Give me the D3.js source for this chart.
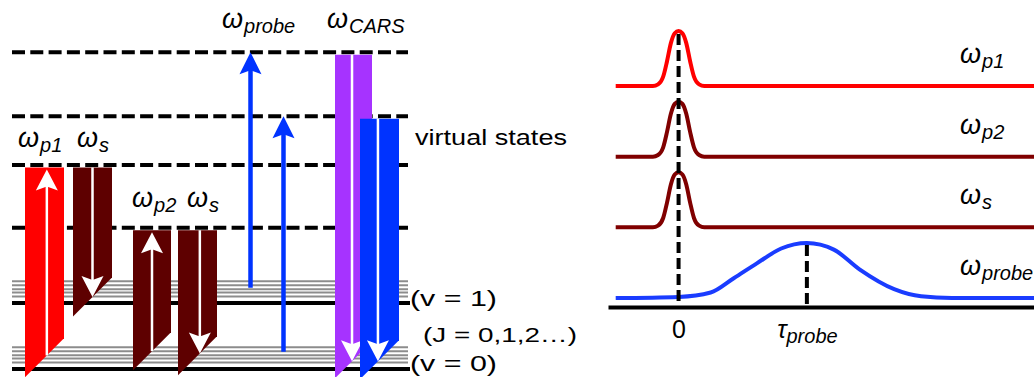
<!DOCTYPE html>
<html>
<head>
<meta charset="utf-8">
<script src="https://cdn.jsdelivr.net/npm/d3@7"></script>
<style>
body { margin: 0; background: #fff; }
text { font-family: "Liberation Sans", Arial, sans-serif; fill: #000; }
</style>
</head>
<body>
<div id="chart-area"></div>
<script>

let width = 1034,
	height = 377;

// ---- left panel: energy levels (v = 0 -> 0, v = 1 -> 1) ----
let vibLevels = [0, 1];
let vibLabels = ["(v = 0)", "(v = 1)"];
let rotOffsets = [0.10, 0.16, 0.21, 0.27, 0.33];   // J sublevels above each v
let virtualLevels = [2.14, 3.09, 3.83, 4.80];

// broad beams: id, upper level, lower end, direction
let beamIds = ["p1", "s1", "p2", "s2", "cars1", "cars2"];
let beamTop = [3.09, 3.09, 2.14, 2.14, 4.80, 3.83];
let beamEnd = [0.17, 1.09, 0.27, 0.20, 0.14, 0.14];
let beamDir = ["up", "down", "up", "down", "down", "down"];

// thin probe arrows
let probeIds = ["probe1", "probe2"];
let probeFrom = [1.23, 0.26];
let probeTo = [4.80, 3.83];

// ---- right panel: pulse timing ----
let pulseNames = ["p1", "p2", "s", "probe"];
let pumpT = [-0.49, -0.2, -0.16, -0.12, -0.09, -0.06, -0.03, 0, 0.03, 0.06, 0.09, 0.12, 0.16, 0.2, 2.77];
let pumpA = [0, 0, 0.03, 0.17, 0.45, 0.78, 0.96, 1, 0.96, 0.78, 0.45, 0.17, 0.03, 0, 0];
let probeT = [-0.49, 0, 0.25, 0.43, 0.61, 0.8, 1.0, 1.21, 1.41, 1.68, 1.89, 2.13, 2.77];
let probeA = [0, 0.02, 0.1, 0.36, 0.63, 0.9, 1, 0.88, 0.52, 0.16, 0.03, 0, 0];
let tickTimes = [0, 1];
let tickMain = ["0", "\u03c4"];
let tickSub = ["", "probe"];

let colors = {
	p1: "#ff0000", s1: "#5e0000", p2: "#5e0000", s2: "#5e0000",
	cars1: "#a633ff", cars2: "#0033ff", probe: "#0033ff"
};
let lineColors = {p1: "#ff0000", p2: "#800000", s: "#800000", probe: "#1a3cff"};

let svg = d3.select("#chart-area").append("svg")
	.attr("width", width).attr("height", height);

// omega label with subscript
function omega(g, x, y, sub, size, subSize, dy) {
	let t = g.append("text").attr("x", x).attr("y", y).style("font-style", "italic");
	t.append("tspan").style("font-size", size + "px").text("\u03c9");
	t.append("tspan").attr("dx", 1).attr("dy", dy).style("font-size", subSize + "px").text(sub);
	return t;
}

function arrowHead(x, y, dir, w, h, notch) {
	let s = dir === "up" ? 1 : -1;
	return "M" + x + "," + y +
		"L" + (x + w / 2) + "," + (y + s * h) +
		"L" + x + "," + (y + s * (h - notch)) +
		"L" + (x - w / 2) + "," + (y + s * h) + "Z";
}

// ================= LEFT PANEL =================
let yE = d3.scaleLinear().domain([0, 1]).range([369, 303]);
let xL = d3.scaleOrdinal()
	.domain(beamIds.concat(probeIds))
	.range([25, 73, 133, 178, 335, 360, 250.5, 283.5]);
let beamW = d3.scaleOrdinal().domain(beamIds).range([39, 39, 38, 39, 37, 39]);
// where the white arrow sits across each beam
let arrowPos = d3.scaleOrdinal().domain(beamIds).range([0.56, 0.5, 0.5, 0.56, 0.46, 0.46]);

let left = svg.append("g");

// rotational sublevels
let rot = [];
vibLevels.forEach(v => rotOffsets.forEach(o => rot.push(v + o)));
left.selectAll(".rot").data(rot).enter().append("line")
	.attr("x1", 12).attr("x2", 408)
	.attr("y1", d => yE(d)).attr("y2", d => yE(d))
	.attr("stroke", "#8c8c8c").attr("stroke-width", 2);

// vibrational levels
left.selectAll(".vib").data(vibLevels).enter().append("line")
	.attr("x1", 12).attr("x2", 410)
	.attr("y1", d => yE(d)).attr("y2", d => yE(d))
	.attr("stroke", "#000").attr("stroke-width", 4);

// virtual states
left.selectAll(".virt").data(virtualLevels).enter().append("line")
	.attr("x1", 12).attr("x2", 408)
	.attr("y1", d => yE(d)).attr("y2", d => yE(d))
	.attr("stroke", "#000").attr("stroke-width", 4)
	.attr("stroke-dasharray", "13,5.3");

// broad beams
let beams = beamIds.map((id, i) => ({id: id, top: beamTop[i], end: beamEnd[i], dir: beamDir[i]}));
beams.forEach(b => {
	let xl = xL(b.id), w = beamW(b.id);
	let yTop = yE(b.top) + 2.5, yc = yE(b.end);
	let g = left.append("g");
	g.append("path")
		.attr("d", "M" + xl + "," + yTop + "H" + (xl + w) + "V" + (yc - w / 2) +
			"L" + xl + "," + (yc + w / 2) + "Z")
		.attr("fill", colors[b.id]);
	let xa = xl + w * arrowPos(b.id);
	// slant height at the arrow position
	let ySlant = yc + w / 2 - (xa - xl);
	if (b.dir === "up") {
		g.append("line").attr("x1", xa).attr("x2", xa)
			.attr("y1", ySlant).attr("y2", yTop + 8)
			.attr("stroke", "#fff").attr("stroke-width", 2.5);
		g.append("path").attr("d", arrowHead(xa, yTop + 2, "up", 22, 21, 4)).attr("fill", "#fff");
	} else {
		g.append("line").attr("x1", xa).attr("x2", xa)
			.attr("y1", yTop).attr("y2", ySlant - 8)
			.attr("stroke", "#fff").attr("stroke-width", 2.5);
		g.append("path").attr("d", arrowHead(xa, ySlant, "down", 22, 21, 4)).attr("fill", "#fff");
	}
});

// thin probe arrows
probeIds.forEach((id, i) => {
	let x = xL(id);
	left.append("line").attr("x1", x).attr("x2", x)
		.attr("y1", yE(probeFrom[i])).attr("y2", yE(probeTo[i]) + 12)
		.attr("stroke", colors.probe).attr("stroke-width", 4.5);
	left.append("path").attr("d", arrowHead(x, yE(probeTo[i]), "up", 22, 22, 4))
		.attr("fill", colors.probe);
});

// left labels
omega(left, 18, 147, "p1", 27, 20, 5);
omega(left, 77, 147, "s", 27, 20, 5);
omega(left, 132, 207, "p2", 27, 20, 5);
omega(left, 187, 207, "s", 27, 20, 5);
omega(left, 222, 28, "probe", 27, 20, 5);
omega(left, 327, 28, "CARS", 27, 20, 5);

left.append("text").attr("x", 415).attr("y", 145)
	.style("font-size", "22px")
	.attr("textLength", 152).attr("lengthAdjust", "spacingAndGlyphs")
	.text("virtual states");

left.selectAll(".vlab").data(vibLevels).enter().append("text")
	.attr("x", 410)
	.attr("y", d => yE(d) + (d === 0 ? 2 : 3))
	.style("font-size", "22px")
	.attr("textLength", 87).attr("lengthAdjust", "spacingAndGlyphs")
	.text((d, i) => vibLabels[i]);

left.append("text").attr("x", 423).attr("y", 342)
	.style("font-size", "21px")
	.attr("textLength", 154).attr("lengthAdjust", "spacingAndGlyphs")
	.text("(J = 0,1,2\u2026)");

// ================= RIGHT PANEL =================
let tScale = d3.scaleLinear().domain([-0.55, 2.77]).range([608, 1034]);
let rowScale = d3.scalePoint().domain(pulseNames).range([86, 298]);
let ampScale = d3.scaleLinear().domain([0, 1]).range([0, 55]);
let axisY = 307;

let right = svg.append("g");

let pump = pumpT.map((t, i) => ({t: t, a: pumpA[i]}));
let probe = probeT.map((t, i) => ({t: t, a: probeA[i]}));

pulseNames.forEach(name => {
	let base = rowScale(name);
	let line = d3.line()
		.x(d => tScale(d.t))
		.y(d => base - ampScale(d.a))
		.curve(d3.curveMonotoneX);
	right.append("path")
		.datum(name === "probe" ? probe : pump)
		.attr("d", line)
		.attr("fill", "none")
		.attr("stroke", lineColors[name])
		.attr("stroke-width", 4)
		.attr("stroke-linejoin", "round");
	omega(right, 960, base - 23, name, 27, 20, 5);
});

// axis
let xAxis = d3.axisBottom(tScale).tickValues(tickTimes).tickSize(0).tickFormat("").tickSizeOuter(0);
let ax = right.append("g")
	.attr("transform", "translate(0," + axisY + ")")
	.call(xAxis);
ax.select(".domain").attr("stroke", "#000").attr("stroke-width", 4);
ax.selectAll(".tick text").remove();
ax.selectAll(".tick").each(function(d, i) {
	let t = d3.select(this).append("text")
		.attr("y", 31).attr("text-anchor", "middle")
		.style("font-size", "25px");
	t.append("tspan").style("font-style", i ? "italic" : "normal").text(tickMain[i]);
	if (tickSub[i]) {
		t.append("tspan").attr("dy", 5).style("font-style", "italic")
			.style("font-size", "20px").text(tickSub[i]);
	}
});

// dashed markers
right.append("line")
	.attr("x1", tScale(0)).attr("x2", tScale(0))
	.attr("y1", rowScale("p1") - ampScale(1) + 3).attr("y2", axisY)
	.attr("stroke", "#000").attr("stroke-width", 4).attr("stroke-dasharray", "11,5");
right.append("line")
	.attr("x1", tScale(1)).attr("x2", tScale(1))
	.attr("y1", rowScale("probe") - ampScale(1) + 2).attr("y2", axisY)
	.attr("stroke", "#000").attr("stroke-width", 4).attr("stroke-dasharray", "11,5");

</script>
</body>
</html>
